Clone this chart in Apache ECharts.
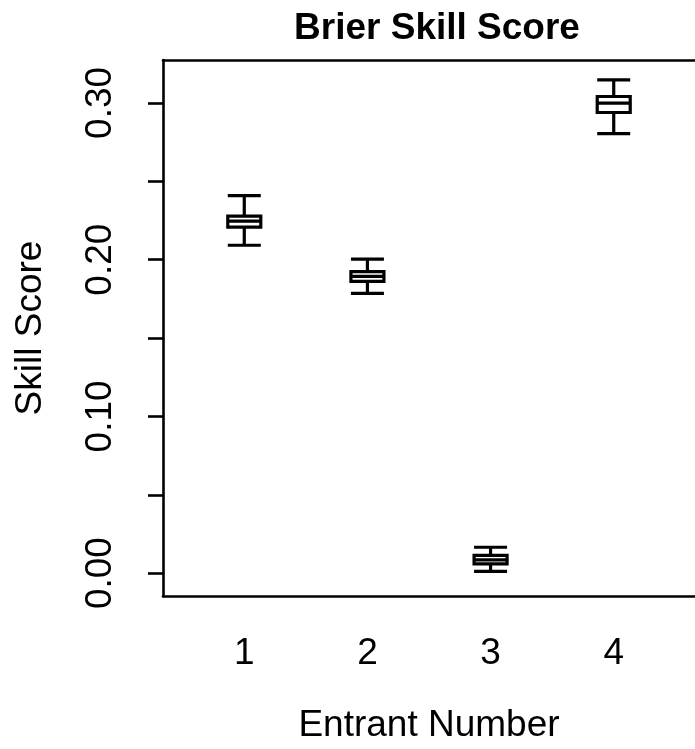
<!DOCTYPE html>
<html>
<head>
<meta charset="utf-8">
<script src="https://cdn.jsdelivr.net/npm/echarts@6/dist/echarts.min.js"></script>
<style>
html,body{margin:0;padding:0;background:#fff;}
#chart{width:695px;height:749px;}
</style>
</head>
<body>
<div id="chart"></div>
<script>
// Entrant numbers (x positions)
const entrants = [1, 2, 3, 4];
// Box statistics: [min, Q1, median, Q3, max]
const whiskerLow  = [0.2092, 0.1785, 0.0011, 0.2804];
const quart1      = [0.2208, 0.1861, 0.0059, 0.2939];
const medians     = [0.2246, 0.1893, 0.0085, 0.2999];
const quart3      = [0.2278, 0.1924, 0.0113, 0.3041];
const whiskerHigh = [0.2409, 0.2003, 0.0165, 0.3147];
// Tick values
const yTickValues = [0, 0.05, 0.10, 0.15, 0.20, 0.25, 0.30];
const yLabelValues = [0, 0.10, 0.20, 0.30];
const xLabelValues = [1, 2, 3, 4];

const boxData = entrants.map((e, i) => [e, whiskerLow[i], quart1[i], medians[i], quart3[i], whiskerHigh[i]]);

const FONT = "'Liberation Sans', Arial, Helvetica, sans-serif";
const FS = 37;
const chart = echarts.init(document.getElementById('chart'), null, {renderer: 'canvas'});
chart.setOption({
  animation: false,
  backgroundColor: '#ffffff',
  title: {
    text: 'Brier Skill Score',
    left: 432,
    top: 5,
    textAlign: 'center',
    textStyle: {fontFamily: FONT, fontWeight: 'bold', fontSize: FS, color: '#000'}
  },
  grid: {
    left: 163, top: 60, width: 538, height: 538
  },
  xAxis: [{
    type: 'value',
    min: 0.34, max: 4.66,
    position: 'bottom',
    name: 'Entrant Number',
    nameLocation: 'middle',
    nameGap: 111,
    nameTextStyle: {fontFamily: FONT, fontSize: FS, color: '#000'},
    axisLine: {show: true, onZero: false, lineStyle: {color: '#000', width: 2.6}},
    axisTick: {show: false},
    splitLine: {show: false},
    axisLabel: {
      customValues: xLabelValues,
      margin: 39,
      fontFamily: FONT, fontSize: FS, color: '#000',
      formatter: v => String(v)
    }
  }, {
    type: 'value',
    min: 0.34, max: 4.66,
    position: 'top',
    axisLine: {show: true, onZero: false, lineStyle: {color: '#000', width: 2.6}},
    axisTick: {show: false},
    axisLabel: {show: false},
    splitLine: {show: false}
  }],
  yAxis: {
    type: 'value',
    min: -0.0146, max: 0.3274,
    name: 'Skill Score',
    nameLocation: 'middle',
    nameGap: 114,
    nameTextStyle: {fontFamily: FONT, fontSize: FS, color: '#000'},
    axisLine: {show: true, onZero: false, lineStyle: {color: '#000', width: 2.6}},
    axisTick: {show: true, customValues: yTickValues, length: 15, inside: false,
               lineStyle: {color: '#000', width: 2.6}},
    splitLine: {show: false},
    axisLabel: {
      customValues: yLabelValues,
      rotate: 90,
      margin: 44,
      fontFamily: FONT, fontSize: FS, color: '#000',
      formatter: v => v.toFixed(2)
    }
  },
  series: [{
    type: 'boxplot',
    xAxisIndex: 0,
    data: boxData,
    boxWidth: [33, 33],
    itemStyle: {color: '#ffffff', borderColor: '#000000', borderWidth: 3.2},
    emphasis: {disabled: true}
  }]
});
</script>
</body>
</html>
